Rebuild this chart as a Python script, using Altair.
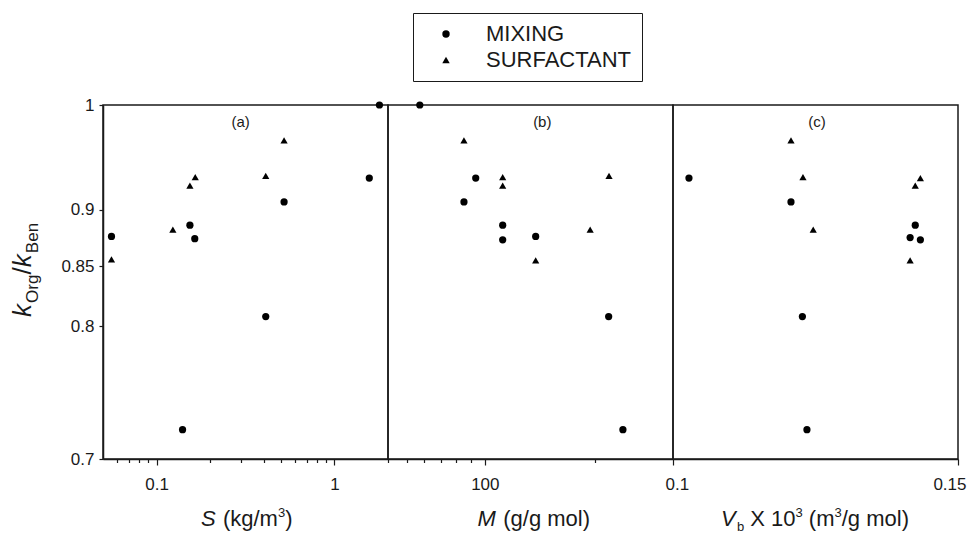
import altair as alt
import pandas as pd

FONT = "Liberation Sans"
INK = "#1a1a1a"

# ---------------- data ----------------
METHODS = ["MIXING", "SURFACTANT"]

# panel (a): S (kg/m3)
S_mix = [0.0558, 0.154, 0.164, 0.140, 0.411, 0.521, 1.57, 1.79]
K_mix_a = [0.876, 0.886, 0.874, 0.721, 0.808, 0.907, 0.929, 1.0]
S_surf = [0.0558, 0.1235, 0.154, 0.165, 0.411, 0.521]
K_surf_a = [0.856, 0.882, 0.922, 0.930, 0.931, 0.965]

# panel (b): M (g/g mol)
M_mix = [78.7, 96.7, 92.6, 106.8, 106.8, 120.6, 157.8, 166.3]
K_mix_b = [1.0, 0.929, 0.907, 0.886, 0.873, 0.876, 0.808, 0.721]
M_surf = [92.6, 106.8, 106.8, 158.0, 147.4, 120.6]
K_surf_b = [0.965, 0.930, 0.922, 0.931, 0.882, 0.855]

# panel (c): Vb x 10^3 (m3/g mol)
V_mix = [0.1028, 0.1207, 0.1425, 0.1416, 0.1434, 0.1227, 0.1235]
K_mix_c = [0.929, 0.907, 0.886, 0.875, 0.873, 0.808, 0.721]
V_surf = [0.1207, 0.1228, 0.1246, 0.1434, 0.1425, 0.1416]
K_surf_c = [0.965, 0.930, 0.882, 0.929, 0.922, 0.855]

Y_TICKS = [0.7, 0.8, 0.85, 0.9, 1]
A_TICKS = [0.06, 0.07, 0.08, 0.09, 0.1, 0.2, 0.3, 0.4, 0.5, 0.6, 0.7, 0.8, 0.9, 1, 2]
A_LABELS = [0.1, 1]
B_TICKS = [75, 80, 85, 90, 95, 100, 150]
B_LABELS = [100]
C_TICKS = [0.1, 0.15]
PANEL_TAGS = ["(a)", "(b)", "(c)"]

W, H = 285, 354

# ---------------- helpers for rich-text titles ----------------
ARIAL = {' ': 278, '(': 333, ')': 333, '/': 278, '0': 556, '1': 556, '3': 556,
         'k': 500, 'g': 556, 'm': 833, 'o': 556, 'l': 222, 'b': 556, 'S': 667,
         'M': 833, 'V': 667, 'X': 667, 'O': 778, 'r': 333, 'B': 667, 'e': 556,
         'n': 556}


def text_width(s, size):
    return sum(ARIAL.get(c, 556) for c in s) * size / 1000.0


def rich_text(segs, start, base, rotated=False):
    """segs: (text, size, italic, shift). Returns list of text layers."""
    out = []
    pos = start
    one = pd.DataFrame({"k": [0]})
    for txt, size, italic, shift in segs:
        lead = len(txt) - len(txt.lstrip(" "))
        gap = lead * ARIAL[' '] * size / 1000.0
        body = txt.lstrip(" ")
        w = text_width(body, size) + (1.2 if italic else 0)
        if rotated:
            pos -= gap
            enc = dict(x=alt.value(base + shift), y=alt.value(pos))
            pos -= w
        else:
            pos += gap
            enc = dict(x=alt.value(pos), y=alt.value(base + shift))
            pos += w
        out.append(
            alt.Chart(one).mark_text(
                text=body, font=FONT, fontSize=size,
                fontStyle="italic" if italic else "normal",
                align="left", baseline="alphabetic",
                angle=270 if rotated else 0, color=INK,
            ).encode(**enc)
        )
    return out


def seg_total(segs):
    return sum(text_width(t, s) + (1.2 if i else 0) for t, s, i, _ in segs)


def panel_df(x_mix, k_mix, x_surf, k_surf):
    return pd.DataFrame({
        "x": x_mix + x_surf,
        "k": k_mix + k_surf,
        "method": [METHODS[0]] * len(x_mix) + [METHODS[1]] * len(x_surf),
    })


def label_expr(vals):
    arr = ",".join(str(v) for v in vals)
    return f"indexof([{arr}], datum.value) >= 0 ? format(datum.value, '~g') : ''"


def tick_size(vals):
    test = " || ".join(f"datum.value == {v}" for v in vals)
    return {"condition": {"test": test, "value": 6}, "value": 3.5}


LEGEND = alt.Legend(
    orient="none", legendX=310, legendY=-92, title=None,
    strokeColor=INK, padding=10, symbolOffset=12, labelOffset=29,
    labelFont=FONT, labelFontSize=22, labelColor=INK, symbolSize=55,
    symbolFillColor="black", symbolStrokeColor="black", rowPadding=4,
)


def points(df, xenc, first):
    yaxis = alt.Axis(values=Y_TICKS, format="~g", title=None, tickSize=4,
                     labelPadding=5) if first else None
    return alt.Chart(df).mark_point(filled=True, color="black", opacity=1, size=52).encode(
        x=xenc,
        y=alt.Y("k:Q", scale=alt.Scale(type="log", domain=[0.7, 1], nice=False, zero=False),
                axis=yaxis),
        shape=alt.Shape("method:N", scale=alt.Scale(domain=METHODS, range=["circle", "triangle-up"]),
                        legend=LEGEND),
    )


def tag(i, xpix):
    return alt.Chart(pd.DataFrame({"t": [PANEL_TAGS[i]]})).mark_text(
        font=FONT, fontSize=15, color=INK, align="center", baseline="middle"
    ).encode(text="t:N", x=alt.value(xpix), y=alt.value(17))


BASE_Y = 421

# ---------------- panel (a) ----------------
xa = alt.X("x:Q", scale=alt.Scale(type="log", domain=[0.05, 2], nice=False),
           axis=alt.Axis(values=A_TICKS, labelExpr=label_expr(A_LABELS),
                         tickSize=tick_size(A_LABELS), title=None, labelFlush=False))
segs_a = [("S", 22, True, 0), (" (kg/m", 22, False, 0), ("3", 13, False, -9), (")", 22, False, 0)]
segs_y = [("k", 26, True, 0), ("Org", 17, False, 7), ("/", 26, False, 0),
          ("k", 26, True, 0), ("Ben", 17, False, 7)]
pa = alt.layer(
    points(panel_df(S_mix, K_mix_a, S_surf, K_surf_a), xa, True),
    tag(0, 137.7),
    *rich_text(segs_a, 143.7 - seg_total(segs_a) / 2, BASE_Y),
    *rich_text(segs_y, 165 + seg_total(segs_y) / 2, -72.5, rotated=True),
).properties(width=W, height=H)

# ---------------- panel (b) ----------------
xb = alt.X("x:Q", scale=alt.Scale(type="log", domain=[70, 200], nice=False),
           axis=alt.Axis(values=B_TICKS, labelExpr=label_expr(B_LABELS),
                         tickSize=tick_size(B_LABELS), title=None, labelFlush=False))
segs_b = [("M", 22, True, 0), (" (g/g mol)", 22, False, 0)]
pb = alt.layer(
    points(panel_df(M_mix, K_mix_b, M_surf, K_surf_b), xb, False),
    tag(1, 154.3),
    *rich_text(segs_b, 145.8 - seg_total(segs_b) / 2, BASE_Y),
).properties(width=W, height=H)

# ---------------- panel (c) ----------------
xc = alt.X("x:Q", scale=alt.Scale(domain=[0.1, 0.15], nice=False, zero=False),
           axis=alt.Axis(values=C_TICKS, format="~g", tickSize=6, title=None,
                         labelFlush=True, labelFlushOffset=8))
segs_c = [("V", 22, True, 0), ("b", 13, False, 5), (" X 10", 22, False, 0), ("3", 13, False, -9),
          (" (m", 22, False, 0), ("3", 13, False, -9), ("/g mol)", 22, False, 0)]
pc = alt.layer(
    points(panel_df(V_mix, K_mix_c, V_surf, K_surf_c), xc, False),
    tag(2, 144),
    *rich_text(segs_c, 142 - seg_total(segs_c) / 2, BASE_Y),
).properties(width=W, height=H)

chart = alt.hconcat(pa, pb, pc, spacing=0, bounds="flush").properties(
    padding={"left": 0, "top": 4, "right": 0, "bottom": 0}
).configure_view(
    stroke=INK, strokeWidth=1.5
).configure_axis(
    grid=False, domainColor=INK, domainWidth=1.5, tickColor=INK, tickWidth=1.2,
    labelFont=FONT, labelFontSize=17, labelColor=INK, labelPadding=11,
)

chart.save("out.html", embed_options={"renderer": "svg", "actions": False})
